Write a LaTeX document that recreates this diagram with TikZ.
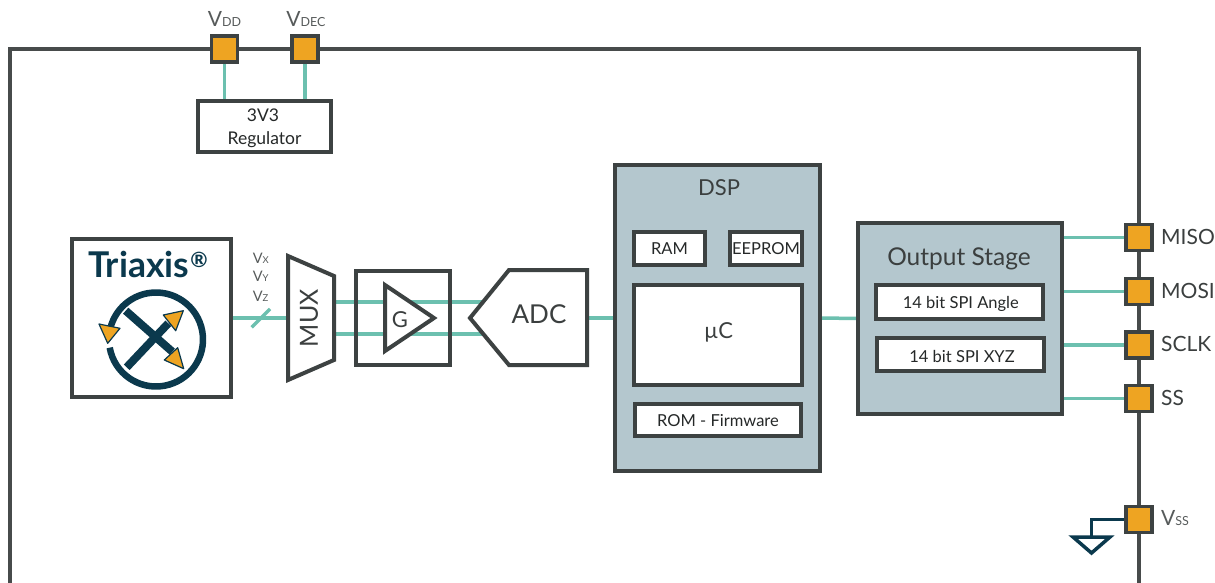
\documentclass[tikz,border=0pt]{standalone}
\usepackage{fontspec}
\setmainfont{Lato}
\usetikzlibrary{backgrounds}
\definecolor{framec}{HTML}{474B4B}
\definecolor{linec}{HTML}{3D4242}
\definecolor{wirec}{HTML}{6CC0AF}
\definecolor{pinc}{HTML}{EEA422}
\definecolor{dspc}{HTML}{B4C7CE}
\definecolor{navyc}{HTML}{0B394D}
\definecolor{txtc}{HTML}{3B3F3F}
\definecolor{darktxt}{HTML}{252828}
\definecolor{lblc}{HTML}{575B5B}
\newcommand\fsz[1]{\fontsize{#1}{#1}\selectfont}
\tikzset{
  blk/.style={draw=linec, line width=4, fill=white, inner sep=0, outer sep=0},
  inbox/.style={draw=linec, line width=3.5, fill=white, inner sep=0, outer sep=0},
  pinbox/.style={draw=linec, line width=3.5, fill=pinc, minimum size=26, inner sep=0, outer sep=0},
  wire/.style={draw=wirec, line width=3.5},
  txt/.style={inner sep=0, text=txtc, anchor=base},
  tip/.style={fill=pinc, draw=navyc, line width=1.2, line join=round},
  bar/.style={draw=navyc, line width=8}
}
\begin{document}
\begin{tikzpicture}[x=1pt,y=-1pt]
\path[use as bounding box] (0,0) rectangle (1215,583);
% outer frame
\draw[framec, line width=4] (10,590) -- (10,49) -- (1139,49) -- (1139,590);
% pins
\node[pinbox] (vdd) at (224.5,49) {};
\node[pinbox] (vdec) at (305,49) {};
\node[pinbox] (miso) at (1139,237.5) {};
\node[pinbox] (mosi) at (1139,291.5) {};
\node[pinbox] (sclk) at (1139,345) {};
\node[pinbox] (ss) at (1139,398.5) {};
\node[pinbox] (vss) at (1139,519.5) {};
% pin labels
\node[txt, text=lblc, font=\fsz{21}] (vddL) at (224.5,27) {V{\fsz{12.5}DD}};
\node[txt, text=lblc, font=\fsz{21}] (vdecL) at (306,27) {V{\fsz{12.5}DEC}};
\node[txt, anchor=base west, font=\fsz{21}] (misoL) at (1161,244) {MISO};
\node[txt, anchor=base west, font=\fsz{21}] (mosiL) at (1161,298.3) {MOSI};
\node[txt, anchor=base west, font=\fsz{21}] (sclkL) at (1161,351.7) {SCLK};
\node[txt, anchor=base west, font=\fsz{21}] (ssL) at (1161,405) {SS};
\node[txt, anchor=base west, text=lblc, font=\fsz{21}] (vssL) at (1161,525.7) {V{\fsz{12.5}SS}};
% regulator
\node[blk, minimum width=133, minimum height=51] (reg) at (264.5,126.5) {};
\node[txt, text=darktxt, font=\fsz{17.5}] (regA) at (263,121.7) {3V3};
\node[txt, text=darktxt, font=\fsz{17.5}] (regB) at (264.5,145) {Regulator};
% Triaxis
\node[blk, minimum width=159, minimum height=158] (tri) at (151.5,318) {};
\node[anchor=base west, inner sep=0, text=navyc, font=\fsz{35.5}\bfseries] (triT) at (88,277.8) {Triaxis\kern1pt\raisebox{10.5pt}{\fsz{21}®}};
\coordinate (logoC) at (156,339.5);
\draw[navyc, line width=6.5] (logoC) ++(170:47) arc[start angle=170, end angle=-164, radius=47];
\filldraw[tip] (99,324) -- (120,328.3) -- (107.7,343.3) -- cycle;
\draw[bar] (125.7,310.7) -- (172.3,351.7);
\filldraw[tip] (164.3,360) -- (177.7,347.7) -- (183.7,368.7) -- cycle;
\draw[bar] (126.7,367.3) -- (168.3,323.3);
\filldraw[tip] (163.3,315) -- (183.3,310.7) -- (175.7,330.7) -- cycle;
% V labels
\node[txt, anchor=base west, text=lblc, font=\fsz{14.5}] (vx) at (252.7,263) {V{\fsz{9.5}X}};
\node[txt, anchor=base west, text=lblc, font=\fsz{14.5}] (vy) at (252.7,281.7) {V{\fsz{9.5}Y}};
\node[txt, anchor=base west, text=lblc, font=\fsz{14.5}] (vz) at (252.7,301.7) {V{\fsz{9.5}Z}};
% MUX
\draw[draw=linec, line width=4, fill=white, line join=miter] (288,256) -- (334,276) -- (334,360) -- (288,380) -- cycle;
\node[inner sep=0, rotate=90, text=txtc, font=\fsz{25}] (mux) at (309,318.3) {MUX};
\coordinate (muxL) at (288,318);
\coordinate (muxR1) at (334,302);
\coordinate (muxR2) at (334,334);
\coordinate (slashA) at (251.7,327.3);
\coordinate (slashB) at (270,309);
% gain
\node[blk, fill=none, minimum size=94] (gbox) at (403,318) {};
\draw[draw=linec, line width=4, fill=white, line join=miter] (385,285) -- (434,318) -- (385,351) -- cycle;
\node[inner sep=0, text=txtc, font=\fsz{22}] (gT) at (400,319.5) {G};
% ADC
\draw[draw=linec, line width=4, fill=white, line join=miter] (470,318) -- (509,270) -- (587,270) -- (587,365) -- (509,365) -- cycle;
\node[inner sep=0, text=txtc, font=\fsz{26}] (adcT) at (539,313.8) {ADC};
\coordinate (adcL1) at (482,302);
\coordinate (adcL2) at (482,334);
\coordinate (adcR) at (587,318);
% DSP
\node[blk, fill=dspc, minimum width=205, minimum height=306] (dsp) at (717.5,318) {};
\node[txt, font=\fsz{22}] (dspT) at (719,195) {DSP};
\node[inbox, minimum width=71, minimum height=33] (ram) at (669.5,248.5) {};
\node[txt, text=darktxt, font=\fsz{16.5}] (ramT) at (669.5,254.3) {RAM};
\node[inbox, minimum width=72, minimum height=33] (eep) at (766,248.5) {};
\node[txt, text=darktxt, font=\fsz{16.5}] (eepT) at (766,254.3) {EEPROM};
\node[inbox, minimum width=168, minimum height=100] (uc) at (718,335) {};
\node[txt, font=\fsz{22}] (ucT) at (718.5,338.3) {µC};
\node[inbox, minimum width=166, minimum height=32] (rom) at (718,420) {};
\node[txt, text=darktxt, font=\fsz{16.5}] (romT) at (718,426.7) {ROM - Firmware};
% Output stage
\node[blk, fill=dspc, minimum width=204, minimum height=191] (outp) at (960,318.5) {};
\node[txt, font=\fsz{24.5}] (outT) at (959,265) {Output Stage};
\node[inbox, minimum width=167, minimum height=34] (spia) at (959.5,302) {};
\node[txt, text=darktxt, font=\fsz{16.5}] (spiaT) at (960.8,308.3) {14 bit SPI Angle};
\node[inbox, minimum width=167, minimum height=33] (spix) at (960.5,354.5) {};
\node[txt, text=darktxt, font=\fsz{16.5}] (spixT) at (962,362.3) {14 bit SPI XYZ};
\coordinate (gndA) at (1091.3,519.5);
\coordinate (gndB) at (1091.3,537);
% wires and background
\begin{scope}[on background layer]
\fill[white] (0,0) rectangle (1215,583);
\draw[wire] (vdd) -- (vdd |- reg.north);
\draw[wire] (vdec) -- (vdec |- reg.north);
\draw[wire] (tri.east) -- (muxL);
\draw[wire] (slashA) -- (slashB);
\draw[wire] (muxR1) -- (adcL1);
\draw[wire] (muxR2) -- (adcL2);
\draw[wire] (adcR) -- (dsp.west);
\draw[wire] (dsp.east) -- (outp.west);
\draw[wire] (outp.east |- miso) -- (miso);
\draw[wire] (outp.east |- mosi) -- (mosi);
\draw[wire] (outp.east |- sclk) -- (sclk);
\draw[wire] (outp.east |- ss) -- (ss);
\draw[navyc, line width=3.5] (vss.west) -- (gndA) -- (gndB);
\end{scope}
\draw[navyc, line width=3.5, fill=white, line join=miter] (1073,537) -- (1110,537) -- (1091.5,553) -- cycle;
\end{tikzpicture}
\end{document}
